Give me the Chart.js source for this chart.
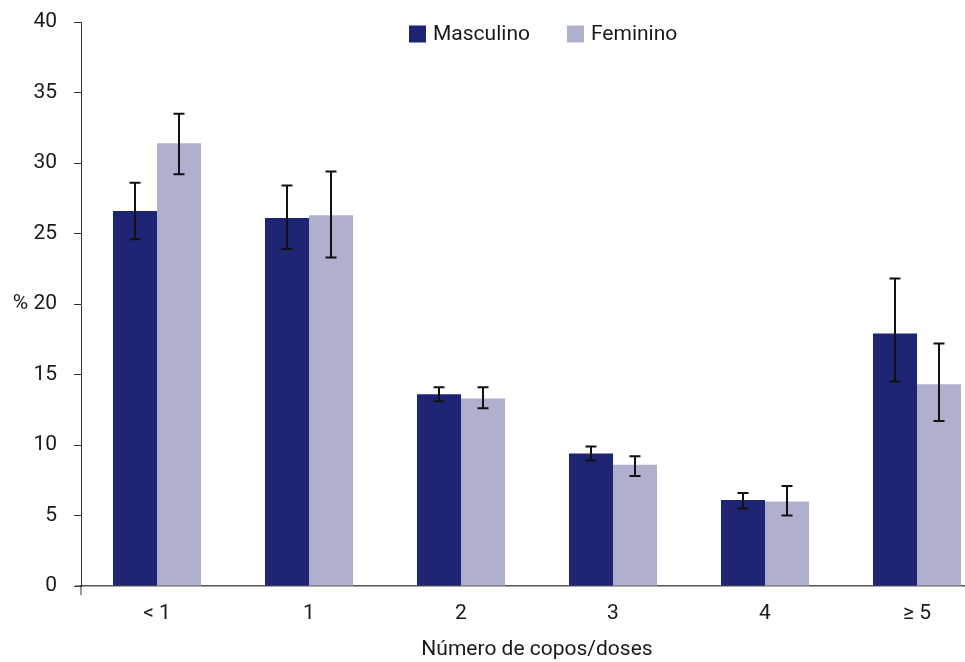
<!DOCTYPE html>
<html>
<head>
<meta charset="utf-8">
<script src="https://cdn.jsdelivr.net/npm/chart.js@4.4.1/dist/chart.umd.min.js"></script>
<style>
  html, body { margin: 0; padding: 0; background: #fff; overflow: hidden; }
  #wrap { width: 965px; height: 662px; overflow: hidden; }
</style>
</head>
<body>
<div id="wrap"><canvas id="grafico" width="1000" height="662"></canvas></div>
<script>
const categorias = ["< 1", "1", "2", "3", "4", "≥ 5"];
const masculino = [26.6, 26.1, 13.6, 9.4, 6.1, 17.9];
const feminino = [31.4, 26.3, 13.3, 8.6, 6.0, 14.3];
const mascErroMin = [24.6, 23.9, 13.1, 8.9, 5.5, 14.5];
const mascErroMax = [28.6, 28.4, 14.1, 9.9, 6.6, 21.8];
const femErroMin = [29.2, 23.3, 12.6, 7.8, 5.0, 11.7];
const femErroMax = [33.5, 29.4, 14.1, 9.2, 7.1, 17.2];

const erros = [
  { min: mascErroMin, max: mascErroMax },
  { min: femErroMin, max: femErroMax },
];

const fonte = "Roboto, 'Noto Sans', sans-serif";
const corTexto = "#1a1a1a";

const barrasErro = {
  id: "barrasErro",
  afterDatasetsDraw(chart) {
    const ctx = chart.ctx;
    const y = chart.scales.y;
    ctx.save();
    ctx.strokeStyle = "#111";
    ctx.lineWidth = 2;
    erros.forEach((e, i) => {
      const meta = chart.getDatasetMeta(i);
      meta.data.forEach((bar, j) => {
        const top = y.getPixelForValue(e.max[j]);
        const bot = y.getPixelForValue(e.min[j]);
        ctx.beginPath();
        ctx.moveTo(bar.x, top);
        ctx.lineTo(bar.x, bot);
        ctx.moveTo(bar.x - 5.5, top);
        ctx.lineTo(bar.x + 5.5, top);
        ctx.moveTo(bar.x - 5.5, bot);
        ctx.lineTo(bar.x + 5.5, bot);
        ctx.stroke();
      });
    });
    // marca pequena abaixo da origem
    const area = chart.chartArea;
    ctx.strokeStyle = "#333";
    ctx.lineWidth = 1;
    ctx.beginPath();
    ctx.moveTo(area.left, area.bottom);
    ctx.lineTo(area.left, area.bottom + 9);
    ctx.moveTo(area.left - 6, area.bottom);
    ctx.lineTo(area.left, area.bottom);
    ctx.stroke();
    ctx.restore();
  },
};

// legenda dentro da área do gráfico, como no original
const legendaTopo = {
  id: "legendaTopo",
  afterDraw(chart) {
    const ctx = chart.ctx;
    const area = chart.chartArea;
    ctx.save();
    ctx.font = "21px " + fonte;
    ctx.textBaseline = "middle";
    ctx.fillStyle = corTexto;
    let x = area.left + 328;
    const yc = 34;
    chart.data.datasets.forEach((ds) => {
      ctx.fillStyle = ds.backgroundColor;
      ctx.fillRect(x, yc - 8.5, 17, 17);
      ctx.fillStyle = corTexto;
      ctx.fillText(ds.label, x + 24, yc + 1);
      x += 24 + ctx.measureText(ds.label).width + 37;
    });
    ctx.restore();
  },
};

new Chart(document.getElementById("grafico").getContext("2d"), {
  type: "bar",
  data: {
    labels: categorias,
    datasets: [
      {
        label: "Masculino",
        data: masculino,
        backgroundColor: "#1c2473",
        categoryPercentage: 0.579,
        barPercentage: 1,
      },
      {
        label: "Feminino",
        data: feminino,
        backgroundColor: "#afafce",
        categoryPercentage: 0.579,
        barPercentage: 1,
      },
    ],
  },
  options: {
    responsive: false,
    animation: false,
    layout: { padding: { left: 0, right: 7, top: 22, bottom: 0 } },
    plugins: {
      tooltip: { enabled: false },
      legend: { display: false },
    },
    scales: {
      x: {
        grid: { display: false, drawTicks: false },
        border: { color: "#555", width: 1.5 },
        ticks: { color: corTexto, padding: 15, font: { family: fonte, size: 21 } },
        title: {
          display: true,
          text: "Número de copos/doses",
          color: corTexto,
          font: { family: fonte, size: 21 },
          padding: { top: 0, bottom: 0 },
        },
        afterFit: (s) => { s.height = 76; },
      },
      y: {
        min: 0,
        max: 40,
        grid: { drawOnChartArea: false, tickLength: 7, color: "#333" },
        border: { color: "#333", width: 1 },
        ticks: {
          stepSize: 5,
          padding: 17,
          color: corTexto,
          font: { family: fonte, size: 21 },
          callback: (v) => (v === 20 ? "% 20" : v),
        },
        afterFit: (s) => {
          s.width = 81;
          s.paddingTop = 0;
          s.paddingBottom = 0;
        },
      },
    },
  },
  plugins: [barrasErro, legendaTopo],
});
</script>
</body>
</html>
